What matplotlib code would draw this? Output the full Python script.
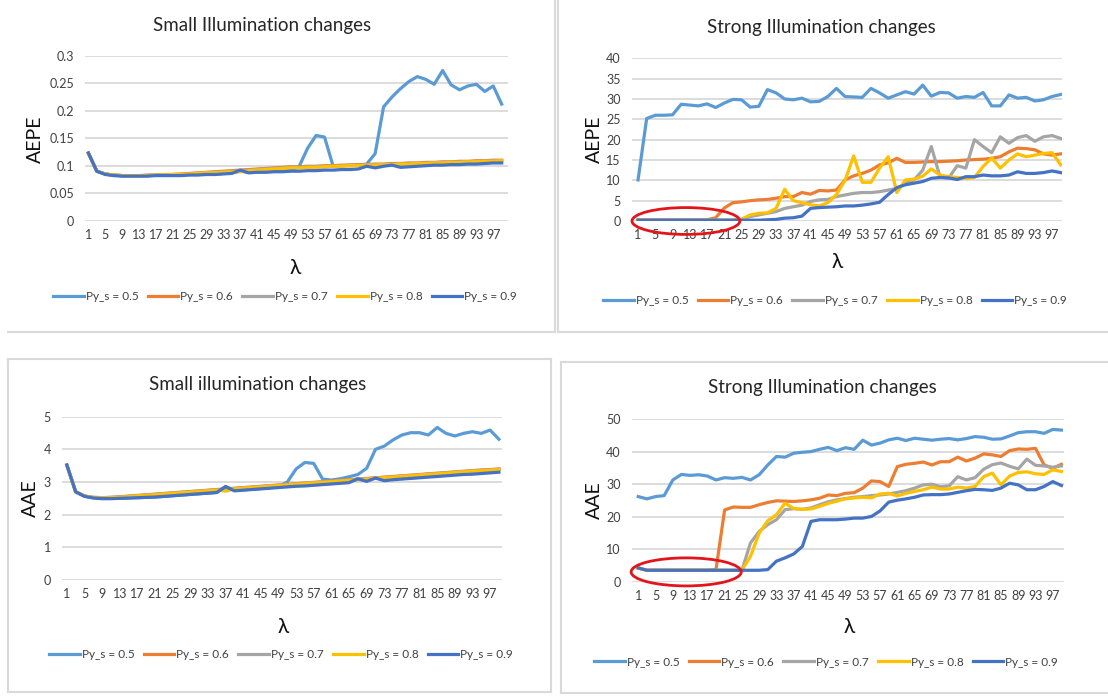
import matplotlib
matplotlib.use('Agg')
import matplotlib.pyplot as plt
from matplotlib.patches import Ellipse
from matplotlib.lines import Line2D

# --- Data (lambda sampled at odd values 1..99) ---
lam = list(range(1, 100, 2))
series_names = ['Py_s = 0.5', 'Py_s = 0.6', 'Py_s = 0.7', 'Py_s = 0.8', 'Py_s = 0.9']
colors = ['#5B9BD5', '#ED7D31', '#A5A5A5', '#FFC000', '#4472C4']
xtick_vals = list(range(1, 98, 4))

# AEPE, small illumination changes
aepe_small_05 = [0.123, 0.090, 0.085, 0.083, 0.082, 0.082, 0.082, 0.082, 0.083, 0.083,
                 0.083, 0.083, 0.084, 0.084, 0.085, 0.085, 0.086, 0.087, 0.090, 0.088,
                 0.089, 0.089, 0.090, 0.090, 0.091, 0.099, 0.132, 0.155, 0.152, 0.100,
                 0.100, 0.101, 0.101, 0.103, 0.122, 0.207, 0.225, 0.240, 0.253, 0.262,
                 0.257, 0.248, 0.273, 0.247, 0.238, 0.245, 0.248, 0.235, 0.245, 0.212]
aepe_small_06 = [0.123, 0.090, 0.085, 0.083, 0.082, 0.082, 0.082, 0.083, 0.083, 0.084,
                 0.084, 0.085, 0.086, 0.087, 0.088, 0.089, 0.090, 0.091, 0.092, 0.093,
                 0.094, 0.095, 0.096, 0.097, 0.098, 0.098, 0.099, 0.099, 0.100, 0.100,
                 0.101, 0.101, 0.102, 0.102, 0.103, 0.103, 0.104, 0.104, 0.105, 0.105,
                 0.106, 0.106, 0.107, 0.107, 0.108, 0.108, 0.109, 0.109, 0.110, 0.110]
aepe_small_07 = [0.123, 0.090, 0.085, 0.083, 0.082, 0.082, 0.082, 0.082, 0.083, 0.083,
                 0.084, 0.084, 0.085, 0.086, 0.087, 0.088, 0.089, 0.090, 0.091, 0.092,
                 0.093, 0.094, 0.095, 0.096, 0.097, 0.097, 0.098, 0.098, 0.099, 0.099,
                 0.100, 0.100, 0.101, 0.101, 0.102, 0.102, 0.103, 0.103, 0.104, 0.104,
                 0.105, 0.105, 0.106, 0.106, 0.107, 0.107, 0.108, 0.108, 0.109, 0.109]
aepe_small_08 = [0.123, 0.090, 0.085, 0.083, 0.082, 0.082, 0.082, 0.082, 0.083, 0.083,
                 0.084, 0.084, 0.085, 0.086, 0.087, 0.087, 0.088, 0.089, 0.089, 0.091,
                 0.092, 0.093, 0.094, 0.095, 0.096, 0.096, 0.097, 0.097, 0.098, 0.099,
                 0.099, 0.100, 0.100, 0.101, 0.101, 0.102, 0.102, 0.103, 0.103, 0.104,
                 0.104, 0.105, 0.105, 0.106, 0.106, 0.107, 0.107, 0.108, 0.108, 0.109]
aepe_small_09 = [0.123, 0.090, 0.084, 0.082, 0.081, 0.081, 0.081, 0.081, 0.082, 0.082,
                 0.082, 0.082, 0.083, 0.083, 0.084, 0.084, 0.085, 0.086, 0.092, 0.087,
                 0.088, 0.088, 0.089, 0.089, 0.090, 0.090, 0.091, 0.091, 0.092, 0.092,
                 0.093, 0.093, 0.094, 0.099, 0.096, 0.099, 0.101, 0.097, 0.098, 0.099,
                 0.100, 0.101, 0.101, 0.102, 0.102, 0.103, 0.103, 0.104, 0.105, 0.105]

# AEPE, strong illumination changes
aepe_strong_05 = [10.1, 25.2, 26.0, 26.0, 26.1, 28.7, 28.5, 28.3, 28.8, 27.9,
                  29.0, 29.9, 29.8, 28.0, 28.2, 32.3, 31.5, 30.0, 29.8, 30.2,
                  29.3, 29.4, 30.6, 32.6, 30.6, 30.5, 30.4, 32.6, 31.5, 30.2,
                  31.0, 31.8, 31.2, 33.4, 30.7, 31.6, 31.5, 30.2, 30.6, 30.4,
                  31.6, 28.3, 28.3, 31.0, 30.2, 30.4, 29.5, 29.8, 30.6, 31.1]
aepe_strong_06 = [0.3, 0.3, 0.3, 0.3, 0.3, 0.3, 0.3, 0.3, 0.3, 0.8,
                  3.2, 4.5, 4.7, 5.0, 5.2, 5.3, 5.6, 6.0, 6.0, 7.0,
                  6.6, 7.5, 7.4, 7.6, 10.1, 11.1, 11.7, 12.5, 13.8, 14.3,
                  15.4, 14.4, 14.4, 14.5, 14.6, 14.6, 14.7, 14.8, 15.0, 15.1,
                  15.2, 15.4, 15.8, 17.0, 17.9, 17.8, 17.5, 16.5, 16.2, 16.5]
aepe_strong_07 = [0.2, 0.2, 0.2, 0.2, 0.2, 0.2, 0.2, 0.2, 0.2, 0.2,
                  0.2, 0.2, 0.4, 1.1, 1.5, 1.9, 2.3, 3.1, 3.5, 3.9,
                  4.8, 5.2, 5.3, 6.0, 6.4, 6.8, 7.0, 7.0, 7.2, 7.6,
                  8.0, 9.3, 10.1, 12.5, 18.3, 10.9, 10.5, 13.6, 13.0, 20.0,
                  18.3, 16.8, 20.7, 19.1, 20.5, 21.0, 19.6, 20.7, 21.0, 20.3]
aepe_strong_08 = [0.2, 0.2, 0.2, 0.2, 0.2, 0.2, 0.2, 0.2, 0.2, 0.2,
                  0.2, 0.2, 0.4, 1.5, 1.9, 2.0, 3.1, 7.8, 5.0, 4.5,
                  4.0, 3.7, 4.5, 6.5, 10.0, 16.0, 9.5, 9.5, 13.0, 15.8,
                  7.0, 10.1, 10.3, 11.0, 12.8, 11.3, 10.9, 10.7, 10.5, 10.7,
                  13.4, 15.5, 13.0, 15.0, 16.5, 15.8, 16.2, 16.6, 16.8, 13.8]
aepe_strong_09 = [0.2, 0.2, 0.2, 0.2, 0.2, 0.2, 0.2, 0.2, 0.2, 0.2,
                  0.2, 0.2, 0.2, 0.2, 0.2, 0.3, 0.4, 0.7, 0.8, 1.2,
                  3.1, 3.3, 3.4, 3.5, 3.7, 3.7, 3.9, 4.2, 4.6, 6.5,
                  8.2, 8.9, 9.3, 9.7, 10.5, 10.7, 10.6, 10.2, 10.9, 10.9,
                  11.3, 11.1, 11.1, 11.3, 12.1, 11.7, 11.7, 11.9, 12.3, 11.9]

# AAE, small illumination changes
aae_small_05 = [3.52, 2.70, 2.57, 2.52, 2.50, 2.50, 2.50, 2.51, 2.52, 2.53,
                2.54, 2.56, 2.58, 2.60, 2.62, 2.64, 2.66, 2.68, 2.86, 2.75,
                2.76, 2.78, 2.80, 2.82, 2.86, 3.00, 3.40, 3.60, 3.57, 3.09,
                3.06, 3.10, 3.16, 3.23, 3.42, 4.00, 4.10, 4.29, 4.44, 4.51,
                4.51, 4.44, 4.67, 4.49, 4.41, 4.49, 4.54, 4.49, 4.59, 4.31]
aae_small_06 = [3.52, 2.70, 2.57, 2.53, 2.52, 2.53, 2.55, 2.57, 2.59, 2.61,
                2.63, 2.65, 2.67, 2.69, 2.71, 2.73, 2.75, 2.77, 2.79, 2.81,
                2.83, 2.85, 2.87, 2.89, 2.91, 2.93, 2.95, 2.97, 2.99, 3.01,
                3.03, 3.05, 3.07, 3.09, 3.11, 3.13, 3.15, 3.17, 3.19, 3.21,
                3.23, 3.25, 3.27, 3.29, 3.31, 3.33, 3.35, 3.37, 3.38, 3.40]
aae_small_07 = [3.52, 2.70, 2.57, 2.53, 2.52, 2.53, 2.54, 2.56, 2.58, 2.60,
                2.62, 2.64, 2.66, 2.68, 2.70, 2.72, 2.74, 2.76, 2.78, 2.80,
                2.82, 2.84, 2.86, 2.88, 2.90, 2.92, 2.94, 2.96, 2.98, 3.00,
                3.02, 3.04, 3.06, 3.08, 3.10, 3.12, 3.14, 3.16, 3.18, 3.20,
                3.22, 3.24, 3.26, 3.28, 3.30, 3.32, 3.34, 3.35, 3.37, 3.39]
aae_small_08 = [3.52, 2.70, 2.57, 2.52, 2.51, 2.52, 2.53, 2.55, 2.57, 2.59,
                2.61, 2.63, 2.65, 2.67, 2.69, 2.71, 2.73, 2.75, 2.72, 2.79,
                2.81, 2.83, 2.85, 2.87, 2.89, 2.91, 2.93, 2.95, 2.97, 2.99,
                3.01, 3.03, 3.05, 3.07, 3.09, 3.11, 3.13, 3.15, 3.17, 3.19,
                3.21, 3.23, 3.25, 3.27, 3.29, 3.31, 3.33, 3.34, 3.36, 3.38]
aae_small_09 = [3.52, 2.70, 2.56, 2.51, 2.49, 2.49, 2.50, 2.51, 2.52, 2.53,
                2.54, 2.56, 2.58, 2.60, 2.62, 2.64, 2.66, 2.68, 2.86, 2.73,
                2.75, 2.77, 2.79, 2.81, 2.83, 2.85, 2.87, 2.88, 2.90, 2.92,
                2.94, 2.96, 2.98, 3.10, 3.02, 3.12, 3.04, 3.07, 3.09, 3.11,
                3.13, 3.15, 3.17, 3.19, 3.21, 3.23, 3.24, 3.26, 3.28, 3.30]

# AAE, strong illumination changes
aae_strong_05 = [26.2, 25.5, 26.2, 26.5, 31.3, 33.0, 32.7, 32.9, 32.5, 31.3,
                 32.0, 31.8, 32.1, 31.3, 32.9, 35.9, 38.5, 38.3, 39.5, 39.8,
                 40.0, 40.7, 41.3, 40.3, 41.2, 40.7, 43.5, 42.0, 42.6, 43.6,
                 44.1, 43.4, 44.1, 43.8, 43.5, 43.8, 44.0, 43.6, 44.0, 44.6,
                 44.4, 43.8, 43.9, 44.8, 45.8, 46.1, 46.1, 45.6, 46.8, 46.6]
aae_strong_06 = [4.3, 3.6, 3.6, 3.6, 3.6, 3.6, 3.6, 3.6, 3.6, 3.8,
                 22.1, 23.0, 22.9, 22.9, 23.7, 24.4, 24.9, 24.8, 24.7, 24.9,
                 25.2, 25.7, 26.7, 26.5, 27.2, 27.4, 28.8, 31.0, 30.8, 29.3,
                 35.4, 36.1, 36.4, 36.8, 35.9, 36.9, 36.9, 38.3, 37.1, 38.0,
                 39.3, 39.0, 38.5, 40.3, 40.8, 40.7, 41.0, 35.9, 34.9, 36.1]
aae_strong_07 = [4.3, 3.6, 3.6, 3.6, 3.6, 3.6, 3.6, 3.6, 3.6, 3.6,
                 3.6, 3.6, 3.6, 12.0, 15.5, 17.6, 19.1, 22.2, 22.5, 22.3,
                 22.7, 23.7, 24.6, 25.2, 25.6, 26.0, 26.2, 26.5, 26.7, 27.0,
                 27.5, 28.0, 28.8, 29.8, 30.0, 29.2, 29.5, 32.3, 31.3, 32.0,
                 34.6, 36.0, 36.5, 35.5, 34.7, 37.7, 35.8, 35.6, 35.2, 35.6]
aae_strong_08 = [4.3, 3.6, 3.6, 3.6, 3.6, 3.6, 3.6, 3.6, 3.6, 3.6,
                 3.6, 3.6, 3.6, 7.9, 15.0, 18.8, 20.6, 24.2, 22.5, 22.3,
                 22.4, 23.2, 24.1, 24.8, 25.5, 25.8, 26.0, 25.8, 27.0, 27.2,
                 26.4, 27.2, 27.8, 28.3, 29.1, 28.5, 28.5, 29.1, 28.8, 29.3,
                 32.3, 33.4, 29.8, 32.5, 33.6, 33.8, 33.2, 33.0, 34.4, 33.9]
aae_strong_09 = [4.3, 3.6, 3.6, 3.6, 3.6, 3.6, 3.6, 3.6, 3.6, 3.6,
                 3.6, 3.6, 3.6, 3.6, 3.6, 3.8, 6.4, 7.4, 8.6, 10.9,
                 18.6, 19.1, 19.1, 19.1, 19.3, 19.6, 19.6, 20.1, 21.8, 24.5,
                 25.1, 25.5, 26.0, 26.7, 26.8, 26.8, 27.0, 27.5, 28.0, 28.4,
                 28.3, 28.1, 28.8, 30.3, 29.8, 28.3, 28.3, 29.3, 30.8, 29.6]

# --- Figure layout (pixel coords, origin top-left) ---
W, H = 1108, 696
plt.rcParams['font.family'] = ['Lato', 'DejaVu Sans']
fig = plt.figure(figsize=(W / 100, H / 100), dpi=100)

def fx(px):
    return px / W

def fy(py):
    return 1 - py / H

panels = [
    dict(series=[aepe_small_05, aepe_small_06, aepe_small_07, aepe_small_08, aepe_small_09],
         title='Small Illumination changes', ylabel='AEPE',
         yticks=[0, 0.05, 0.1, 0.15, 0.2, 0.25, 0.3],
         yticklabels=['0', '0.05', '0.1', '0.15', '0.2', '0.25', '0.3'],
         box=(85, 55.7, 508, 220.7), xlim=(0.2, 100.5),
         title_xy=(262, 25), ylabel_xy=(35, 139), lam_xy=(295, 268), leg_xy=(285, 297),
         ellipse=None),
    dict(series=[aepe_strong_05, aepe_strong_06, aepe_strong_07, aepe_strong_08, aepe_strong_09],
         title='Strong Illumination changes', ylabel='AEPE',
         yticks=[0, 5, 10, 15, 20, 25, 30, 35, 40],
         yticklabels=['0', '5', '10', '15', '20', '25', '30', '35', '40'],
         box=(632, 58.3, 1062, 221), xlim=(-0.4, 99.3),
         title_xy=(821, 27), ylabel_xy=(594, 139), lam_xy=(837, 262), leg_xy=(835, 301),
         ellipse=((12.1, 0.0), 25, 6.6)),
    dict(series=[aae_small_05, aae_small_06, aae_small_07, aae_small_08, aae_small_09],
         title='Small illumination changes', ylabel='AAE',
         yticks=[0, 1, 2, 3, 4, 5],
         yticklabels=['0', '1', '2', '3', '4', '5'],
         box=(62, 416.7, 502, 580), xlim=(-0.1, 99.7),
         title_xy=(258, 385), ylabel_xy=(30, 498), lam_xy=(283, 627), leg_xy=(281, 655),
         ellipse=None),
    dict(series=[aae_strong_05, aae_strong_06, aae_strong_07, aae_strong_08, aae_strong_09],
         title='Strong Illumination changes', ylabel='AAE',
         yticks=[0, 10, 20, 30, 40, 50],
         yticklabels=['0', '10', '20', '30', '40', '50'],
         box=(632, 419, 1064, 582), xlim=(-0.45, 99.6),
         title_xy=(822, 388), ylabel_xy=(594, 500), lam_xy=(849, 627), leg_xy=(826, 662),
         ellipse=((12.1, 3.1), 25.5, 8.6)),
]

for p in panels:
    l, t, r, b = p['box']
    ax = fig.add_axes([fx(l), fy(b), (r - l) / W, (b - t) / H])
    handles = []
    for vals, name, c in zip(p['series'], series_names, colors):
        h, = ax.plot(lam, vals, color=c, lw=2.3, label=name, solid_joinstyle='round')
        handles.append(h)
    ax.set_xlim(*p['xlim'])
    ax.set_ylim(p['yticks'][0], p['yticks'][-1])
    ax.set_yticks(p['yticks'])
    ax.set_yticklabels(p['yticklabels'])
    ax.set_xticks(xtick_vals)
    ax.set_xticklabels([str(v) for v in xtick_vals])
    ax.tick_params(length=0, labelsize=9, labelcolor='#404040', pad=6)
    ax.tick_params(axis='y', pad=8)
    ax.grid(axis='y', color='#D9D9D9', lw=1.3)
    ax.set_axisbelow(True)
    for s in ax.spines.values():
        s.set_visible(False)
    if p['ellipse'] is not None:
        center, w, h = p['ellipse']
        ax.add_patch(Ellipse(center, w, h, fill=False, ec='#E3151B', lw=2, clip_on=False, zorder=5))

    fig.text(fx(p['title_xy'][0]), fy(p['title_xy'][1]), p['title'], ha='center', va='center',
             fontsize=13.5, color='#262626')
    fig.text(fx(p['ylabel_xy'][0]), fy(p['ylabel_xy'][1]), p['ylabel'], ha='center', va='center',
             rotation=90, fontsize=14, color='#111111')
    fig.text(fx(p['lam_xy'][0]), fy(p['lam_xy'][1]), 'λ', ha='center', va='center',
             fontsize=15, color='#111111')
    ax.legend(handles=handles, loc='center', bbox_to_anchor=(fx(p['leg_xy'][0]), fy(p['leg_xy'][1])),
              bbox_transform=fig.transFigure, ncol=5, frameon=False, fontsize=8.5,
              handlelength=2.6, handletextpad=0.15, columnspacing=0.8, labelcolor='#404040')

# --- chart-area borders ---
border = '#D9D9D9'
def seg(x0, y0, x1, y1):
    fig.add_artist(Line2D([fx(x0), fx(x1)], [fy(y0), fy(y1)], transform=fig.transFigure,
                          color=border, lw=1.5))

seg(8, 332, 555, 332)
seg(555, 0, 555, 332)
seg(558, 0, 558, 332)
seg(558, 332, 1108, 332)
seg(8, 359, 551, 359)
seg(551, 359, 551, 692)
seg(8, 692, 551, 692)
seg(8, 359, 8, 692)
seg(561, 362, 1108, 362)
seg(561, 362, 561, 693)
seg(561, 693, 1108, 693)

fig.savefig('out.png', dpi=100)
